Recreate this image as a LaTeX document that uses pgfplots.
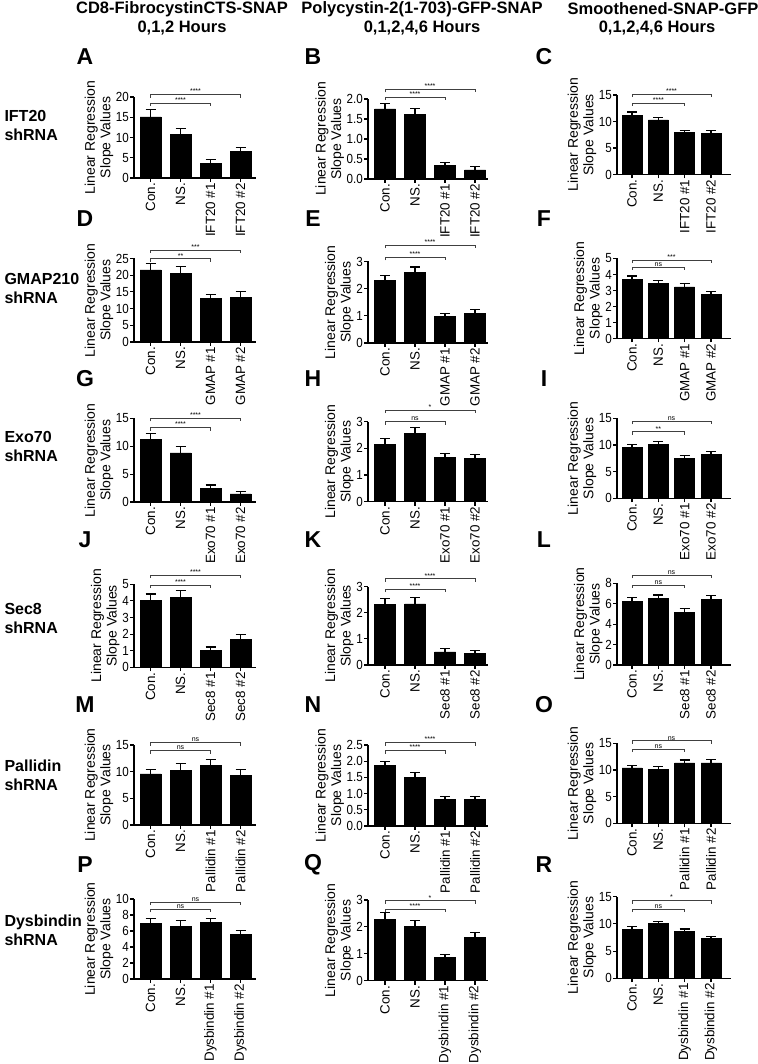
\documentclass[border=0pt]{standalone}
\usepackage{fontspec}
\setmainfont{Liberation Sans}
\newfontfamily\tickfam[FakeStretch=0.88]{Liberation Sans}
\usepackage{pgfplots}
\pgfplotsset{compat=1.18}
\newcommand\tickfont{\tickfam\fontsize{13.2bp}{14bp}\selectfont}
\newcommand\labfont{\fontsize{14bp}{15.5bp}\selectfont}
\newcommand\xlabfont{\fontsize{13.4bp}{15bp}\selectfont}
\newcommand\brkA[2]{\draw[brk] ([yshift=-3bp]axis cs:0,#1) -- (axis cs:0,#1) -- (axis cs:2,#1) -- ([yshift=-3bp]axis cs:2,#1); \node[brkl] at (axis cs:1,#1) {#2};}
\newcommand\brkB[2]{\draw[brk] ([yshift=-3bp]axis cs:0,#1) -- (axis cs:0,#1) -- (axis cs:3,#1) -- ([yshift=-3bp]axis cs:3,#1); \node[brkl] at (axis cs:1.5,#1) {#2};}
\tikzset{brk/.style={draw=black!75, line width=0.8bp},
  brkl/.style={font=\fontsize{7bp}{7bp}\selectfont, anchor=south, inner sep=0.6bp}}
\pgfplotsset{
  base/.style={scale only axis, ymin=0, axis x line*=bottom, axis y line*=left,
    axis line style={line width=1.3bp,-}, major tick length=4bp,
    tick style={line width=1.1bp,black}, tick align=outside, xtick={0,1,2,3},
    clip=false, ybar, bar width=21bp,
    yticklabel style={font=\tickfont, inner sep=1bp},
    xticklabel style={rotate=90, anchor=east, font=\xlabfont, inner sep=1bp},
    ylabel={Linear Regression\\Slope Values},
    ylabel style={align=center, font=\labfont, inner sep=1.5bp},
    /pgf/number format/assume math mode=true},
  colA/.style={base, anchor=south west, width=121.5bp, xmin=-0.55, xmax=3.5},
  colB/.style={base, anchor=south west, width=120bp, xmin=-0.567, xmax=3.433},
  colC/.style={base, anchor=south west, width=114bp, xmin=-0.57, xmax=3.76, bar width=20bp},
  onedec/.style={yticklabel style={/pgf/number format/fixed, /pgf/number format/fixed zerofill, /pgf/number format/precision=1}},
  bars/.style={fill=black, draw=black, line width=0.5bp,
    error bars/.cd, y dir=plus, y explicit,
    error bar style={line width=1.2bp, black},
    error mark options={rotate=90, line width=1.2bp, mark size=5bp, black}},
}
\begin{document}
\begin{tikzpicture}[x=1bp,y=1bp]
\path[use as bounding box] (0,0) rectangle (758,1064);
% headers
\node[font=\bfseries\fontsize{16.5bp}{18bp}\selectfont] at (182,1055) {CD8-FibrocystinCTS-SNAP};
\node[font=\bfseries\fontsize{16.5bp}{18bp}\selectfont] at (182,1036) {0,1,2 Hours};
\node[font=\bfseries\fontsize{16.5bp}{18bp}\selectfont] at (422,1055) {Polycystin-2(1-703)-GFP-SNAP};
\node[font=\bfseries\fontsize{16.5bp}{18bp}\selectfont] at (422,1036) {0,1,2,4,6 Hours};
\node[font=\bfseries\fontsize{16.5bp}{18bp}\selectfont] at (663,1055) {Smoothened-SNAP-GFP};
\node[font=\bfseries\fontsize{16.5bp}{18bp}\selectfont] at (657,1036) {0,1,2,4,6 Hours};
% row labels
\foreach \t/\y in {IFT20/938, GMAP210/775, Exo70/618, Sec8/446, Pallidin/289, Dysbindin/134}
  \node[anchor=west, align=left, font=\bfseries\fontsize{16bp}{19bp}\selectfont] at (1,\y) {\t\\shRNA};
% panel letters
\foreach \l/\x/\y in {A/85/1007, B/313/1007, C/544/1007, D/85/845, E/313/845, F/544/845,
  G/85/685, H/313/685, I/544/685, J/85/524, K/313/524, L/544/524,
  M/85/359, N/313/359, O/544/359, P/85/199, Q/313/199, R/544/199}
  \node[font=\bfseries\fontsize{23bp}{24bp}\selectfont] at (\x,\y) {\l};
% ---------------- Row 1
\begin{axis}[colA, at={(134bp,886bp)}, height=81bp, ymax=20, ytick={0,5,10,15,20},
  xticklabels={Con.,NS.,IFT20 \#1,IFT20 \#2}]
\addplot[bars] coordinates {(0,15.1) +- (0,1.9) (1,10.8) +- (0,1.5) (2,3.55) +- (0,0.95) (3,6.6) +- (0,1.0)};
\brkB{20.6}{****}\brkA{18.5}{****}
\end{axis}
\begin{axis}[colB, onedec, at={(368bp,885bp)}, height=80bp, ymax=2, ytick={0,0.5,1,1.5,2},
  xticklabels={Con.,NS.,IFT20 \#1,IFT20 \#2}]
\addplot[bars] coordinates {(0,1.75) +- (0,0.14) (1,1.62) +- (0,0.15) (2,0.34) +- (0,0.07) (3,0.23) +- (0,0.08)};
\brkB{2.24}{****}\brkA{2.04}{****}
\end{axis}
\begin{axis}[colC, at={(617bp,889.5bp)}, height=79.5bp, ymax=15, ytick={0,5,10,15},
  xticklabels={Con.,NS.,IFT20 \#1,IFT20 \#2}]
\addplot[bars] coordinates {(0,11.2) +- (0,0.6) (1,10.3) +- (0,0.5) (2,7.9) +- (0,0.35) (3,7.75) +- (0,0.5)};
\brkB{15.2}{****}\brkA{13.5}{****}
\end{axis}
% ---------------- Row 2
\begin{axis}[colA, at={(134bp,722bp)}, height=83.5bp, ymax=25, ytick={0,5,10,15,20,25},
  xticklabels={Con.,NS.,GMAP \#1,GMAP \#2}]
\addplot[bars] coordinates {(0,21.6) +- (0,1.8) (1,20.5) +- (0,2.1) (2,13.0) +- (0,1.3) (3,13.4) +- (0,1.8)};
\brkB{27.5}{***}\brkA{24.9}{**}
\end{axis}
\begin{axis}[colB, at={(368bp,721bp)}, height=81.5bp, ymax=3, ytick={0,1,2,3},
  xticklabels={Con.,NS.,GMAP \#1,GMAP \#2}]
\addplot[bars] coordinates {(0,2.3) +- (0,0.18) (1,2.6) +- (0,0.2) (2,0.97) +- (0,0.11) (3,1.1) +- (0,0.13)};
\brkB{3.6}{****}\brkA{3.15}{****}
\end{axis}
\begin{axis}[colC, at={(617bp,725.5bp)}, height=80bp, ymax=5, ytick={0,1,2,3,4,5},
  xticklabels={Con.,NS.,GMAP \#1,GMAP \#2}]
\addplot[bars] coordinates {(0,3.71) +- (0,0.2) (1,3.44) +- (0,0.16) (2,3.23) +- (0,0.2) (3,2.75) +- (0,0.17)};
\brkB{4.9}{***}\brkA{4.47}{ns}
\end{axis}
% ---------------- Row 3
\begin{axis}[colA, at={(134bp,562bp)}, height=83.5bp, ymax=15, ytick={0,5,10,15},
  xticklabels={Con.,NS.,Exo70 \#1,Exo70 \#2}]
\addplot[bars] coordinates {(0,11.3) +- (0,1.0) (1,8.8) +- (0,1.2) (2,2.5) +- (0,0.55) (3,1.45) +- (0,0.38)};
\brkB{15}{****}\brkA{13.35}{****}
\end{axis}
\begin{axis}[colB, at={(368bp,562.3bp)}, height=80bp, ymax=3, ytick={0,1,2,3},
  xticklabels={Con.,NS.,Exo70 \#1,Exo70 \#2}]
\addplot[bars] coordinates {(0,2.16) +- (0,0.2) (1,2.56) +- (0,0.21) (2,1.65) +- (0,0.15) (3,1.62) +- (0,0.14)};
\brkB{3.43}{*}\brkA{3.0}{ns}
\end{axis}
\begin{axis}[colC, at={(617bp,565.7bp)}, height=80bp, ymax=15, ytick={0,5,10,15},
  xticklabels={Con.,NS.,Exo70 \#1,Exo70 \#2}]
\addplot[bars] coordinates {(0,9.6) +- (0,0.45) (1,10.05) +- (0,0.55) (2,7.55) +- (0,0.42) (3,8.2) +- (0,0.55)};
\brkB{14.4}{ns}\brkA{12.45}{**}
\end{axis}
% ---------------- Row 4
\begin{axis}[colA, at={(134bp,396.7bp)}, height=83bp, ymax=5, ytick={0,1,2,3,4,5},
  xticklabels={Con.,NS.,Sec8 \#1,Sec8 \#2}]
\addplot[bars] coordinates {(0,4.03) +- (0,0.38) (1,4.2) +- (0,0.42) (2,1.02) +- (0,0.2) (3,1.68) +- (0,0.28)};
\brkB{5.55}{****}\brkA{4.95}{****}
\end{axis}
\begin{axis}[colB, at={(368bp,399bp)}, height=78.3bp, ymax=3, ytick={0,1,2,3},
  xticklabels={Con.,NS.,Sec8 \#1,Sec8 \#2}]
\addplot[bars] coordinates {(0,2.31) +- (0,0.23) (1,2.34) +- (0,0.24) (2,0.5) +- (0,0.13) (3,0.44) +- (0,0.12)};
\brkB{3.3}{****}\brkA{2.91}{****}
\end{axis}
\begin{axis}[colC, at={(617bp,399bp)}, height=81.7bp, ymax=8, ytick={0,2,4,6,8},
  xticklabels={Con.,NS.,Sec8 \#1,Sec8 \#2}]
\addplot[bars] coordinates {(0,6.25) +- (0,0.35) (1,6.5) +- (0,0.35) (2,5.18) +- (0,0.35) (3,6.45) +- (0,0.35)};
\brkB{8.8}{ns}\brkA{7.84}{ns}
\end{axis}
% ---------------- Row 5
\begin{axis}[colA, at={(134bp,239bp)}, height=80bp, ymax=15, ytick={0,5,10,15},
  xticklabels={Con.,NS.,Pallidin \#1,Pallidin \#2}]
\addplot[bars] coordinates {(0,9.6) +- (0,0.85) (1,10.3) +- (0,1.3) (2,11.2) +- (0,1.1) (3,9.35) +- (0,1.1)};
\brkB{15.45}{ns}\brkA{13.95}{ns}
\end{axis}
\begin{axis}[colB, onedec, at={(368bp,238bp)}, height=81bp, ymax=2.5, ytick={0,0.5,1,1.5,2,2.5},
  xticklabels={Con.,NS.,Pallidin \#1,Pallidin \#2}]
\addplot[bars] coordinates {(0,1.86) +- (0,0.14) (1,1.5) +- (0,0.14) (2,0.83) +- (0,0.09) (3,0.82) +- (0,0.1)};
\brkB{2.575}{****}\brkA{2.325}{****}
\end{axis}
\begin{axis}[colC, at={(617bp,240.7bp)}, height=80bp, ymax=15, ytick={0,5,10,15},
  xticklabels={Con.,NS.,Pallidin \#1,Pallidin \#2}]
\addplot[bars] coordinates {(0,10.4) +- (0,0.5) (1,10.05) +- (0,0.6) (2,11.35) +- (0,0.5) (3,11.35) +- (0,0.55)};
\brkB{15.45}{ns}\brkA{13.9}{ns}
\end{axis}
% ---------------- Row 6
\begin{axis}[colA, at={(134bp,85bp)}, height=80bp, ymax=10, ytick={0,2,4,6,8,10},
  xticklabels={Con.,NS.,Dysbindin \#1,Dysbindin \#2}]
\addplot[bars] coordinates {(0,6.95) +- (0,0.6) (1,6.6) +- (0,0.7) (2,7.05) +- (0,0.5) (3,5.6) +- (0,0.5)};
\brkB{9.6}{ns}\brkA{8.7}{ns}
\end{axis}
\begin{axis}[colB, at={(368bp,83.3bp)}, height=80.7bp, ymax=3, ytick={0,1,2,3},
  xticklabels={Con.,NS.,Dysbindin \#1,Dysbindin \#2}]
\addplot[bars] coordinates {(0,2.28) +- (0,0.25) (1,2.03) +- (0,0.21) (2,0.86) +- (0,0.11) (3,1.6) +- (0,0.18)};
\brkB{2.97}{*}\brkA{2.65}{****}
\end{axis}
\begin{axis}[colC, at={(617bp,85.7bp)}, height=81.6bp, ymax=15, ytick={0,5,10,15},
  xticklabels={Con.,NS.,Dysbindin \#1,Dysbindin \#2}]
\addplot[bars] coordinates {(0,9.05) +- (0,0.4) (1,10.05) +- (0,0.4) (2,8.65) +- (0,0.4) (3,7.35) +- (0,0.4)};
\brkB{14.25}{*}\brkA{12.7}{ns}
\end{axis}
\end{tikzpicture}
\end{document}
